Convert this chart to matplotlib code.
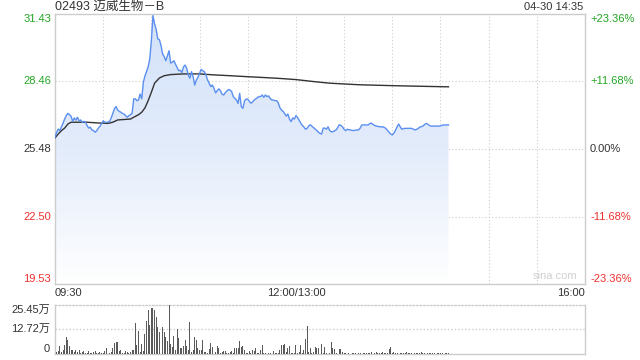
import numpy as np
import matplotlib.pyplot as plt
from matplotlib.colors import LinearSegmentedColormap
from matplotlib.patches import PathPatch

plt.rcParams['font.family'] = ['Liberation Sans', 'Noto Sans CJK SC', 'DejaVu Sans']

title = "02493 迈威生物－B"
stamp = "04-30 14:35"

prev_close = 25.48
price_levels = [19.53, 22.50, 25.48, 28.46, 31.43]
pct_labels = ["-23.36%", "-11.68%", "0.00%", "+11.68%", "+23.36%"]
time_ticks = [0, 150, 330]
time_labels = ["09:30", "12:00/13:00", "16:00"]
vol_levels = [0, 12.72, 25.45]
vol_labels = ["0", "12.72万", "25.45万"]

# one price per trading minute from 09:30 (12:00 and 13:00 share one slot)
price = [
    25.99, 26.21, 26.36, 26.29, 26.45, 26.62, 26.80, 26.95, 27.05, 27.00,
    26.92, 26.70, 26.85, 26.75, 26.88, 26.72, 26.76, 26.66, 26.70, 26.66,
    26.51, 26.40, 26.44, 26.32, 26.29, 26.22, 26.29, 26.40, 26.48, 26.60,
    26.72, 26.66, 26.66, 26.66, 26.70, 26.85, 27.05, 27.25, 27.35, 27.20,
    27.14, 27.10, 27.05, 27.02, 26.95, 26.88, 26.95, 26.99, 27.05, 27.69,
    27.69, 27.61, 27.64, 27.90, 27.69, 28.42, 28.70, 28.90, 29.10, 29.45,
    30.26, 31.36, 30.99, 30.75, 30.33, 30.30, 30.05, 29.67, 29.55, 29.37,
    29.59, 29.81, 29.27, 29.30, 29.37, 29.23, 29.08, 28.93, 28.95, 28.85,
    29.10, 29.18, 29.04, 28.74, 28.60, 28.89, 28.67, 28.30, 28.52, 28.64,
    28.82, 28.99, 28.93, 28.89, 28.74, 28.52, 28.38, 28.23, 28.30, 28.15,
    27.95, 28.05, 28.13, 28.05, 27.90, 27.86, 27.96, 28.04, 28.10, 28.08,
    28.01, 27.79, 27.71, 27.64, 27.49, 27.93, 27.35, 27.27, 27.60, 27.68,
    27.68, 27.58, 27.50, 27.55, 27.64, 27.69, 27.74, 27.79, 27.79, 27.86,
    27.76, 27.86, 27.79, 27.82, 27.71, 27.64, 27.64, 27.61, 27.61, 27.52,
    27.30, 27.20, 27.14, 27.04, 26.93, 27.02, 26.80, 26.69, 26.85, 26.80,
    26.95, 26.87, 26.75, 26.62, 26.52, 26.45, 26.35, 26.39, 26.50, 26.55,
    26.48, 26.42, 26.36, 26.30, 26.22, 26.17, 26.14, 26.40, 26.40, 26.35,
    26.46, 26.30, 26.24, 26.24, 26.28, 26.32, 26.42, 26.55, 26.52, 26.46,
    26.35, 26.29, 26.35, 26.33, 26.32, 26.30, 26.29, 26.31, 26.32, 26.32,
    26.40, 26.54, 26.54, 26.54, 26.54, 26.54, 26.60, 26.62, 26.56, 26.52,
    26.49, 26.48, 26.46, 26.46, 26.46, 26.43, 26.39, 26.30, 26.22, 26.14,
    26.10, 26.18, 26.30, 26.46, 26.58, 26.45, 26.35, 26.38, 26.39, 26.39,
    26.39, 26.39, 26.39, 26.36, 26.32, 26.34, 26.38, 26.44, 26.46, 26.49,
    26.55, 26.61, 26.58, 26.52, 26.49, 26.49, 26.49, 26.49, 26.49, 26.49,
    26.50, 26.52, 26.54, 26.54, 26.54, 26.54,
]

# average price line, read at these minutes
avg_minutes = [0, 2, 4, 6, 8, 10, 20, 26, 33, 36, 39, 47, 49, 52, 54, 56, 58,
               60, 62, 65, 68, 72, 80, 90, 98, 109, 119, 130, 140, 150, 160,
               171, 190, 211, 231, 245]
avg_price = [25.97, 26.14, 26.29, 26.40, 26.58, 26.66, 26.66, 26.63, 26.61,
             26.66, 26.76, 26.80, 26.88, 26.99, 27.10, 27.29, 27.61, 27.98,
             28.38, 28.61, 28.71, 28.76, 28.79, 28.79, 28.75, 28.71, 28.67,
             28.63, 28.59, 28.54, 28.46, 28.38, 28.31, 28.27, 28.24, 28.22]

# volume per minute, 万股
volume = [
    2, 1, 1.5, 4, 1, 2, 4.6, 8.8, 7, 4,
    2, 2, 1, 2, 1, 2, 0.5, 1, 1.5, 0.5,
    0.5, 1.5, 0.5, 0.5, 1, 1.5, 0.5, 0.5, 1, 0.5,
    0.5, 1.5, 3, 0.5, 0.5, 1, 3, 5.8, 6.3, 6.3,
    1.5, 2, 0.5, 0.5, 1.5, 1, 0.5, 1, 2, 2,
    16, 4.6, 12, 1, 5, 1.5, 10.5, 17, 22.7, 14.8,
    23.8, 23.5, 22.4, 19, 13.9, 11.4, 25.45, 14, 11.4, 8.8,
    6.9, 25.0, 5.3, 3.6, 9.2, 2, 13, 8, 3, 3,
    4, 7, 4, 2, 16.4, 1, 2, 8.8, 7, 3,
    2, 2, 7, 1, 1, 0.5, 2.5, 5.8, 3.6, 1,
    1, 4, 3, 0.5, 1, 1.5, 1.5, 0.5, 0.5, 1,
    1.5, 0.5, 3.3, 3, 3, 6.9, 3.6, 4, 2, 0.5,
    0.5, 1.5, 0.5, 2, 1.5, 3, 0.3, 0.5, 2, 4.6,
    0.5, 0.5, 0.3, 0.3, 0.3, 0.2, 1.5, 0.3, 0.5, 0.3,
    2, 4.6, 4.6, 5.3, 1, 3, 4, 0.3, 0.5, 0.5,
    4.6, 0.5, 1, 4.6, 0.5, 2, 7.5, 14.2, 1, 3,
    0.5, 1, 3.6, 3, 3, 5.3, 5.3, 0.3, 3.6, 0.3,
    0.2, 0.5, 6.3, 3, 2.5, 0.5, 0.2, 2.5, 2.5, 1,
    0.7, 0.3, 0.2, 0.3, 0.2, 0.3, 0.5, 0.3, 0.2, 0.3,
    0.3, 0.2, 0.3, 0.5, 0.3, 0.5, 0.3, 1, 0.7, 0.5,
    0.8, 0.5, 0.7, 0.5, 0.8, 0.6, 0.7, 0.5, 2.5, 3.5,
    0.7, 0.8, 0.3, 0.5, 0.2, 0.5, 0.3, 0.5, 0.3, 0.8,
    0.5, 0.3, 0.5, 0.2, 0.7, 0.5, 0.3, 0.5, 0.8, 0.5,
    0.3, 0.8, 0.5, 0.3, 0.5, 0.7, 0.3, 0.2, 0.5, 0.3,
    0.5, 0.3, 0.2, 0.5, 0.3, 0.5,
]

GREEN = '#22a622'
RED = '#f03030'
DARK = '#333333'
BORDER = '#cccccc'
GRID = '#cccccc'


def level_color(v):
    if v > prev_close + 1e-9:
        return GREEN
    if v < prev_close - 1e-9:
        return RED
    return DARK


W, H = 640, 360
fig = plt.figure(figsize=(6.4, 3.6), dpi=100)
ax = fig.add_axes([55 / W, 1 - 284 / H, 530 / W, 270 / H])
axv = fig.add_axes([55 / W, 1 - 354 / H, 530 / W, 49.5 / H])

minutes = np.arange(len(price))
ymin, ymax = price_levels[0], price_levels[-1]

# --- price panel
ax.set_xlim(0, 330)
ax.set_ylim(ymin, ymax)
for m in range(30, 330, 30):
    ax.axvline(m, color=GRID, lw=0.8, ls=(0, (1, 2)), zorder=1)
for v in price_levels[1:-1]:
    ax.axhline(v, color=GRID, lw=0.8, ls=(0, (1, 2)), zorder=1)

fill = ax.fill_between(minutes, price, ymin, facecolor='none', edgecolor='none')
clip = PathPatch(fill.get_paths()[0], transform=ax.transData,
                 facecolor='none', edgecolor='none')
ax.add_patch(clip)
cmap = LinearSegmentedColormap.from_list('fade', ['#ffffff', '#e3ecfb', '#d3e2f9'])
grad = np.linspace(0, 1, 256).reshape(-1, 1)
im = ax.imshow(grad, cmap=cmap, aspect='auto', origin='lower',
               extent=[0, len(price) - 1, ymin, max(price)], zorder=2)
im.set_clip_path(clip)
ax.set_xlim(0, 330)
ax.set_ylim(ymin, ymax)

ax.plot(minutes, price, color='#5b8ff0', lw=1.0, zorder=4)
ax.plot(avg_minutes, avg_price, color='#333333', lw=1.0, zorder=3)

ax.set_xticks([])
ax.set_yticks([])
for s in ax.spines.values():
    s.set_color(BORDER)
    s.set_linewidth(1)

ytr = ax.get_yaxis_transform()
for i, (v, p) in enumerate(zip(price_levels, pct_labels)):
    va = 'bottom' if i == 0 else ('top' if i == len(price_levels) - 1 else 'center')
    c = level_color(v)
    ax.text(-4 / 530, v, f"{v:.2f}", transform=ytr, ha='right', va=va,
            color=c, fontsize=8)
    ax.text(1 + 5 / 530, v, p, transform=ytr, ha='left', va=va,
            color=c, fontsize=8)

xtr = ax.get_xaxis_transform()
for m, lab in zip(time_ticks, time_labels):
    ha = 'left' if m == 0 else ('right' if m == 330 else 'center')
    ax.text(m, -9 / 270, lab, transform=xtr, ha=ha, va='center',
            color=DARK, fontsize=8)

ax.text(0.985, 0.012, "sina.com", transform=ax.transAxes, ha='right',
        va='bottom', color='#d0d0d0', fontsize=8)

fig.text(55 / W, 1 - 7 / H, title, ha='left', va='center', color=DARK,
         fontsize=9)
fig.text(583 / W, 1 - 7 / H, stamp, ha='right', va='center', color=DARK,
         fontsize=8)

# --- volume panel
axv.set_xlim(0, 330)
axv.set_ylim(0, vol_levels[-1])
axv.bar(minutes, volume, width=0.6, color='#5a5a5a', zorder=3)
axv.axhline(vol_levels[1], color=GRID, lw=1.0, ls=(0, (1, 1.5)), zorder=1)
axv.set_xticks([])
axv.set_yticks([])
for k, s in axv.spines.items():
    s.set_color(BORDER)
    s.set_linewidth(1)
axv.spines['top'].set_linestyle((0, (1, 1.5)))

vtr = axv.get_yaxis_transform()
for i, (v, lab) in enumerate(zip(vol_levels, vol_labels)):
    va = 'bottom' if i == 0 else ('top' if i == len(vol_levels) - 1 else 'center')
    axv.text(-5 / 530, v, lab, transform=vtr, ha='right', va=va,
             color=DARK, fontsize=8)

fig.savefig('out.png', dpi=100)
